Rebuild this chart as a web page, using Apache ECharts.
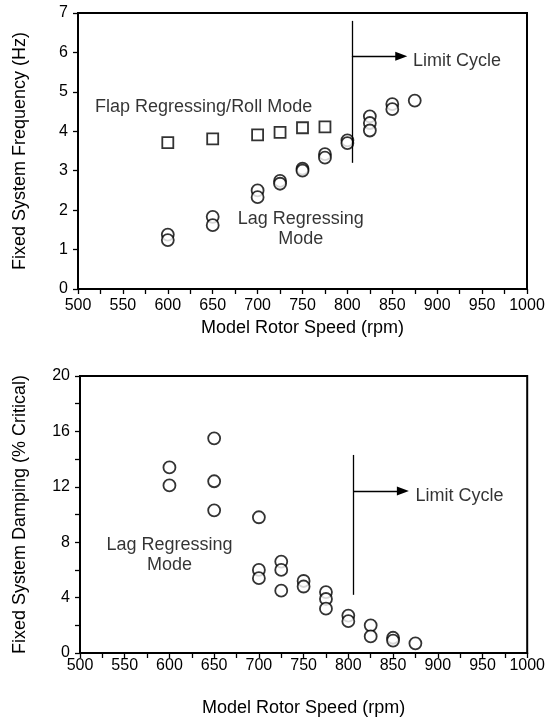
<!DOCTYPE html>
<html><head><meta charset="utf-8">
<script src="https://cdn.jsdelivr.net/npm/echarts@6/dist/echarts.min.js"></script>
<style>html,body{margin:0;padding:0;background:#fff;}#c{width:548px;height:723px;}</style>
</head><body><div id="c"></div>
<script>
// ---- Data ----
const flapRpm  = [600, 650, 700, 725, 750, 775];
const flapFreq = [3.71, 3.81, 3.91, 3.97, 4.09, 4.11];

const lagFreqRpm = [600, 600, 650, 650, 700, 700, 725, 725, 750, 750, 775, 775, 800, 800, 825, 825, 825, 850, 850, 875];
const lagFreq    = [1.38, 1.24, 1.83, 1.62, 2.50, 2.33, 2.74, 2.67, 3.05, 3.00, 3.42, 3.33, 3.77, 3.70, 4.38, 4.21, 4.02, 4.69, 4.56, 4.78];

const dampRpm = [600, 600, 650, 650, 650, 700, 700, 700, 725, 725, 725, 750, 750, 775, 775, 775, 800, 800, 825, 825, 850, 850, 875];
const damp    = [13.4, 12.1, 15.5, 12.4, 10.3, 9.8, 6.0, 5.4, 6.6, 6.0, 4.5, 5.2, 4.8, 4.4, 3.9, 3.2, 2.7, 2.3, 2.0, 1.2, 1.1, 0.9, 0.7];

// limit cycle markers: [rpm, yLow, yHigh, arrowY, arrowEndRpm]
const limitTop = [805, 3.2, 6.8, 5.9, 860];
const limitBot = [806, 4.2, 14.3, 11.7, 861];

// annotation labels [text, rpm, value]
const annTop = [["Limit Cycle", 873, 5.79], ["Flap Regressing/Roll Mode", 519, 4.62], ["Lag Regressing\nMode", 748, 1.51]];
const annBot = [["Limit Cycle", 875, 11.33], ["Lag Regressing\nMode", 600, 7.06]];

const xTitle = "Model Rotor Speed (rpm)";
const yTitleTop = "Fixed System Frequency (Hz)";
const yTitleBot = "Fixed System Damping (% Critical)";

// ---- Chart ----
const FONT = "'Liberation Sans', Arial, Helvetica, sans-serif";
const BLACK = '#000';
const zip = (a, b) => a.map((v, i) => [v, b[i]]);

function xAxisDef(gridIndex, labelMargin, nameGap) {
  return {
    gridIndex, type: 'value', min: 500, max: 1000, interval: 25,
    name: xTitle, nameLocation: 'middle', nameGap,
    nameTextStyle: { fontFamily: FONT, fontSize: 18, color: BLACK },
    axisLine: { show: true, lineStyle: { color: BLACK, width: 2 } },
    axisTick: { show: true, length: 5, lineStyle: { color: BLACK, width: 1.3 } },
    axisLabel: { margin: labelMargin, fontFamily: FONT, fontSize: 16, color: BLACK,
      formatter: v => (v % 50 === 0 ? String(v) : '') },
    splitLine: { show: false }
  };
}
function yAxisDef(gridIndex, max, interval, labelEvery, name, nameGap) {
  return {
    gridIndex, type: 'value', min: 0, max, interval,
    name, nameLocation: 'middle', nameGap,
    nameTextStyle: { fontFamily: FONT, fontSize: 18, color: BLACK },
    axisLine: { show: true, lineStyle: { color: BLACK, width: 2 } },
    axisTick: { show: true, length: 5, lineStyle: { color: BLACK, width: 1.3 } },
    axisLabel: { margin: 10, fontFamily: FONT, fontSize: 16, color: BLACK,
      formatter: v => (v % labelEvery === 0 ? String(v) : '') },
    splitLine: { show: false }
  };
}
function limitMark(l) {
  return {
    silent: true, animation: false,
    lineStyle: { color: BLACK, width: 1.3, type: 'solid' },
    label: { show: false },
    symbolSize: [9, 12],
    data: [
      [{ coord: [l[0], l[1]], symbol: 'none' }, { coord: [l[0], l[2]], symbol: 'none' }],
      [{ coord: [l[0], l[3]], symbol: 'none' }, { coord: [l[4], l[3]], symbol: 'triangle', symbolRotate: -90 }]
    ]
  };
}
function annSeries(xi, yi, ann) {
  return {
    type: 'scatter', xAxisIndex: xi, yAxisIndex: yi, symbolSize: 1, silent: true,
    itemStyle: { color: 'rgba(0,0,0,0)' },
    data: ann.map(a => ({ name: a[0], value: [a[1], a[2]],
      label: { align: a[0].indexOf('\n') >= 0 ? 'center' : 'left' } })),
    label: { show: true, position: 'inside', formatter: '{b}', verticalAlign: 'middle',
      fontFamily: FONT, fontSize: 18, color: BLACK, lineHeight: 20 }
  };
}
const circleStyle = { color: '#fff', borderColor: BLACK, borderWidth: 1.8 };

const option = {
  backgroundColor: '#fff',
  animation: false,
  grid: [
    { left: 78, right: 21, top: 13, height: 276, show: true, borderColor: BLACK, borderWidth: 2, backgroundColor: 'transparent' },
    { left: 80, right: 20, top: 376, height: 277, show: true, borderColor: BLACK, borderWidth: 2, backgroundColor: 'transparent' }
  ],
  xAxis: [xAxisDef(0, 9, 30), xAxisDef(1, 5, 46)],
  yAxis: [yAxisDef(0, 7, 1, 1, yTitleTop, 49), yAxisDef(1, 20, 2, 4, yTitleBot, 51)],
  series: [
    { type: 'scatter', xAxisIndex: 0, yAxisIndex: 0, symbol: 'rect', symbolSize: 11,
      itemStyle: circleStyle, data: zip(flapRpm, flapFreq), markLine: limitMark(limitTop) },
    { type: 'scatter', xAxisIndex: 0, yAxisIndex: 0, symbol: 'circle', symbolSize: 12,
      itemStyle: circleStyle, data: zip(lagFreqRpm, lagFreq) },
    { type: 'scatter', xAxisIndex: 1, yAxisIndex: 1, symbol: 'circle', symbolSize: 12,
      itemStyle: circleStyle, data: zip(dampRpm, damp), markLine: limitMark(limitBot) },
    annSeries(0, 0, annTop),
    annSeries(1, 1, annBot)
  ]
};
const chart = echarts.init(document.getElementById('c'), null, { renderer: 'canvas' });
chart.setOption(option);
</script></body></html>
